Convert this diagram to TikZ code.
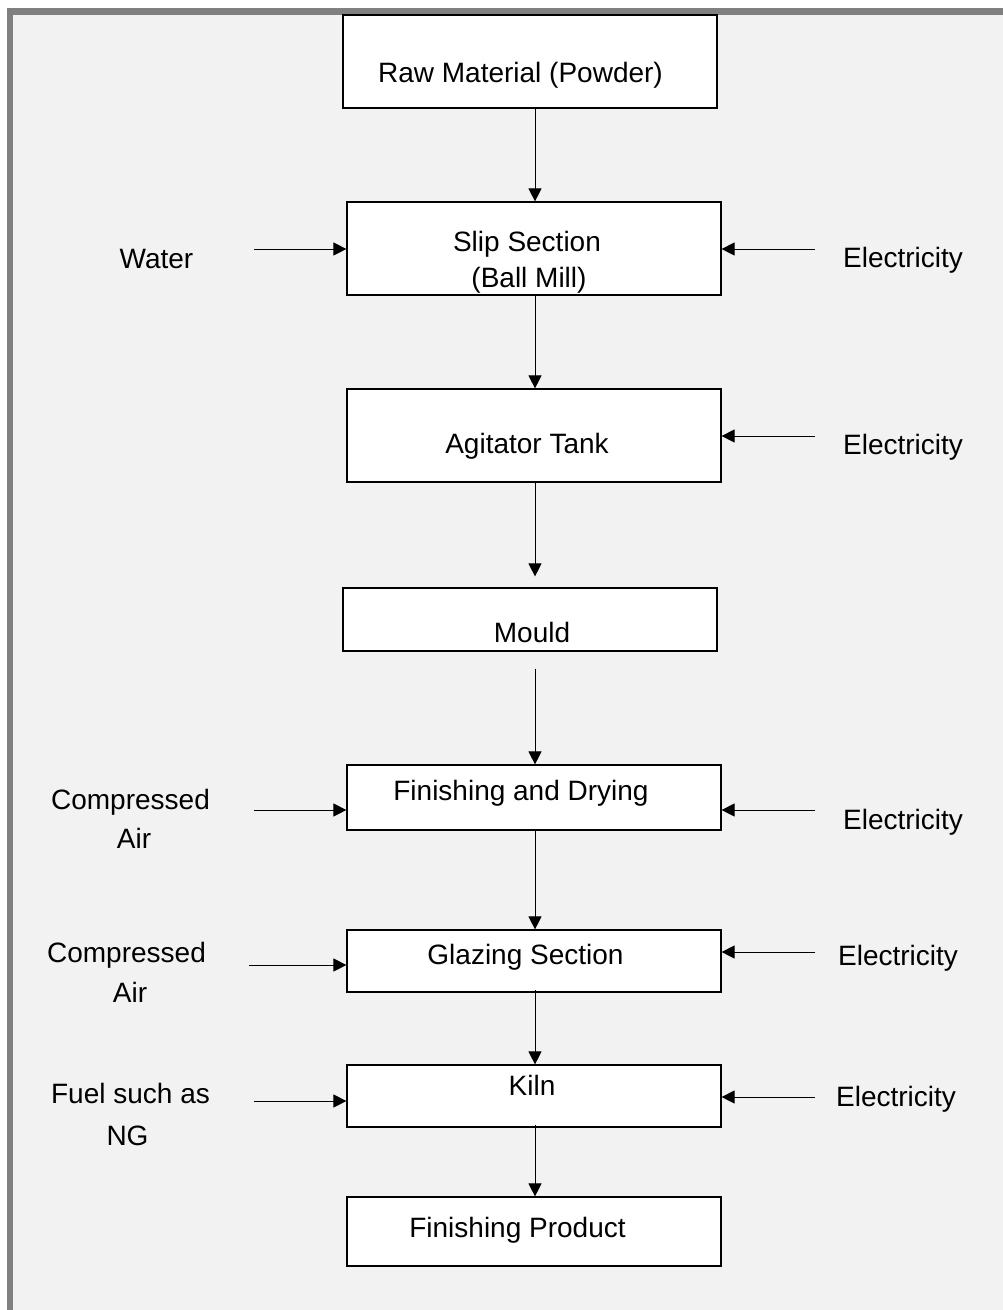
\documentclass[tikz,border=0pt]{standalone}
\usepackage{fontspec}
\setmainfont{Liberation Sans}
\usetikzlibrary{arrows.meta}
\definecolor{framegray}{HTML}{808080}
\definecolor{bggray}{HTML}{F2F2F2}
\begin{document}
\begin{tikzpicture}[x=1pt,y=-1pt,
  stepbox/.style={draw=black,fill=white,line width=1.2pt,rectangle,inner sep=0pt,minimum width=374pt},
  lbl/.style={anchor=base,inner sep=0pt,font=\fontsize{28}{34}\selectfont},
  arr/.style={line width=1pt,-{Triangle[length=13pt,width=13pt]}}]
\useasboundingbox (0,0) rectangle (1003,1310);
\clip (0,0) rectangle (1003,1310);
\fill[white] (0,0) rectangle (1003,1310);
\draw[framegray,fill=bggray,line width=6.5pt] (10,11.5) rectangle (1030,1340);
% boxes
\node[stepbox,minimum height=93pt] (raw) at (530,61.5) {};
\node[stepbox,minimum height=93pt] (slip) at (534,248.5) {};
\node[stepbox,minimum height=93pt] (agit) at (534,435.5) {};
\node[stepbox,minimum height=63pt] (mould) at (530,619.5) {};
\node[stepbox,minimum height=65pt] (fin) at (534,797.5) {};
\node[stepbox,minimum height=62pt] (glaze) at (534,961) {};
\node[stepbox,minimum height=62pt] (kiln) at (534,1096) {};
\node[stepbox,minimum height=69pt] (prod) at (534,1231.5) {};
% box texts
\node[lbl] (traw) at (520.5,82) {Raw Material (Powder)};
\node[lbl] (tslip1) at (527,251) {Slip Section};
\node[lbl] (tslip2) at (529,287) {(Ball Mill)};
\node[lbl] (tagit) at (527,453) {Agitator Tank};
\node[lbl] (tmould) at (532,642) {Mould};
\node[lbl] (tfin) at (521,800) {Finishing and Drying};
\node[lbl] (tglaze) at (525.5,964) {Glazing Section};
\node[lbl] (tkiln) at (532,1095) {Kiln};
\node[lbl] (tprod) at (517.5,1237) {Finishing Product};
% side labels
\node[lbl] (water) at (156.5,268) {Water};
\node[lbl] (el1) at (903,267) {Electricity};
\node[lbl] (el2) at (903,454) {Electricity};
\node[lbl] (ca1) at (130.5,809) {Compressed};
\node[lbl] (ca1b) at (134,848) {Air};
\node[lbl] (el3) at (903,829) {Electricity};
\node[lbl] (ca2) at (126.5,962) {Compressed};
\node[lbl] (ca2b) at (130,1002) {Air};
\node[lbl] (el4) at (898,965) {Electricity};
\node[lbl] (fuel) at (130.5,1103) {Fuel such as};
\node[lbl] (fuelb) at (127.5,1145) {NG};
\node[lbl] (el5) at (896,1106) {Electricity};
% vertical flow
\coordinate (ax) at (535,0);
\draw[arr] (raw.south -| ax) -- (slip.north -| ax);
\draw[arr] (slip.south -| ax) -- (agit.north -| ax);
\draw[arr,shorten >=11pt] (agit.south -| ax) -- (mould.north -| ax);
\draw[arr,shorten <=17pt] (mould.south -| ax) -- (fin.north -| ax);
\draw[arr] (fin.south -| ax) -- (glaze.north -| ax);
\draw[arr,shorten <=-3pt] (glaze.south -| ax) -- (kiln.north -| ax);
\draw[arr,shorten <=-3pt] (kiln.south -| ax) -- (prod.north -| ax);
% left inputs
\coordinate (w1) at (254,249);
\coordinate (w2) at (254,810);
\coordinate (w3) at (249,965);
\coordinate (w4) at (254,1101);
\draw[arr] (w1) -- (w1 -| slip.west);
\draw[arr] (w2) -- (w2 -| fin.west);
\draw[arr] (w3) -- (w3 -| glaze.west);
\draw[arr] (w4) -- (w4 -| kiln.west);
% right inputs
\coordinate (e1) at (815,249);
\coordinate (e2) at (815,436);
\coordinate (e3) at (815,810);
\coordinate (e4) at (815,952);
\coordinate (e5) at (815,1097);
\draw[arr] (e1) -- (e1 -| slip.east);
\draw[arr] (e2) -- (e2 -| agit.east);
\draw[arr] (e3) -- (e3 -| fin.east);
\draw[arr] (e4) -- (e4 -| glaze.east);
\draw[arr] (e5) -- (e5 -| kiln.east);
\end{tikzpicture}
\end{document}
